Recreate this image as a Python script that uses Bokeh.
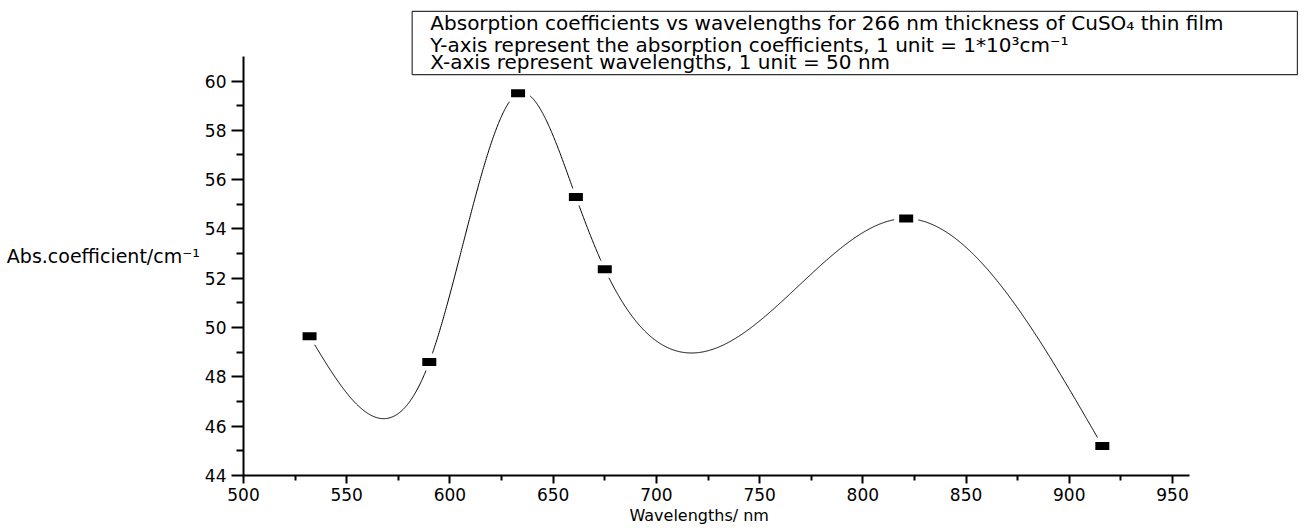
import numpy as np
from bokeh.plotting import figure
from bokeh.models import Range1d, FixedTicker, Title
from bokeh.core.properties import value
from bokeh.embed import file_html
from bokeh.resources import INLINE

# ---- data ----
wavelength = [532, 590, 633, 661, 675, 821, 916]
abs_coeff = [49.65, 48.6, 59.5, 55.3, 52.37, 54.42, 45.2]

x_ticks = [500, 550, 600, 650, 700, 750, 800, 850, 900, 950]
x_minor = [525, 575, 625, 675, 725, 775, 825, 875, 925]
y_ticks = [44, 46, 48, 50, 52, 54, 56, 58, 60]
y_minor = [45, 47, 49, 51, 53, 55, 57, 59]

note_lines = [
    "Absorption coefficients vs wavelengths for 266 nm thickness of CuSO\u2084 thin film",
    "Y-axis represent the absorption coefficients, 1 unit = 1*10\u00b3cm\u207b\u00b9",
    "X-axis represent wavelengths, 1 unit = 50 nm",
]
x_title = "Wavelengths/ nm"
y_title = "Abs.coefficient/cm\u207b\u00b9"

FONT = "DejaVu Sans"


def natural_spline(t, v, tt):
    """Cubic spline connection through the data points (as the original plot draws it)."""
    t = np.asarray(t, float); v = np.asarray(v, float)
    k = len(t); h = np.diff(t)
    A = np.zeros((k, k)); b = np.zeros(k)
    A[0, 0] = 1; A[-1, -1] = 1
    for i in range(1, k - 1):
        A[i, i - 1] = h[i - 1]; A[i, i] = 2 * (h[i - 1] + h[i]); A[i, i + 1] = h[i]
        b[i] = 6 * ((v[i + 1] - v[i]) / h[i] - (v[i] - v[i - 1]) / h[i - 1])
    M = np.linalg.solve(A, b)
    idx = np.clip(np.searchsorted(t, tt) - 1, 0, k - 2)
    t0, t1 = t[idx], t[idx + 1]; v0, v1 = v[idx], v[idx + 1]
    m0, m1 = M[idx], M[idx + 1]; hh = t1 - t0
    return (m0 * (t1 - tt) ** 3 / (6 * hh) + m1 * (tt - t0) ** 3 / (6 * hh)
            + (v0 / hh - m0 * hh / 6) * (t1 - tt) + (v1 / hh - m1 * hh / 6) * (tt - t0))


p = figure(width=1303, height=524, output_backend="svg", toolbar_location=None,
           x_range=Range1d(500, 1012), y_range=Range1d(44, 62.9),
           min_border_left=243, min_border_right=3, min_border_top=9, min_border_bottom=48)
p.outline_line_color = None
p.xgrid.visible = False
p.ygrid.visible = False

for ax in (p.xaxis[0], p.yaxis[0]):
    ax.axis_line_width = 2
    ax.axis_line_color = "black"
    ax.major_tick_line_width = 2
    ax.minor_tick_line_width = 2
    ax.major_tick_line_color = "black"
    ax.minor_tick_line_color = "black"
    ax.major_tick_in = 0
    ax.minor_tick_in = 0
    ax.major_label_text_font = FONT
    ax.major_label_text_font_size = "17px"
    ax.major_label_text_color = "black"

xa, ya = p.xaxis[0], p.yaxis[0]
xa.major_tick_out = 8; xa.minor_tick_out = 5; xa.major_label_standoff = 4
ya.major_tick_out = 12; ya.minor_tick_out = 7; ya.major_label_standoff = 5
xa.ticker = FixedTicker(ticks=x_ticks, minor_ticks=x_minor)
ya.ticker = FixedTicker(ticks=y_ticks, minor_ticks=y_minor)
xa.bounds = (500, 958)
ya.bounds = (44, 61)

ya.axis_label = "\u00a0\n" + y_title
ya.axis_label_orientation = "horizontal"
ya.axis_label_text_font = FONT
ya.axis_label_text_font_size = "19px"
ya.axis_label_text_font_style = "normal"
ya.axis_label_text_color = "black"
ya.axis_label_standoff = 2

p.add_layout(Title(text=x_title, align="left", offset=386, standoff=0, text_font=FONT,
                   text_font_size="16px", text_font_style="normal", text_color="black"), "below")

# spline-connected curve through the data
tt = np.linspace(wavelength[0], wavelength[-1], 1500)
p.line(tt, natural_spline(wavelength, abs_coeff, tt), line_color="black", line_width=1)

# rectangular markers with a white gap around them
p.rect(wavelength, abs_coeff, width=24, height=17, width_units="screen", height_units="screen",
       fill_color="white", line_color=None)
p.rect(wavelength, abs_coeff, width=14, height=8, width_units="screen", height_units="screen",
       fill_color="black", line_color=None)

# note box
p.quad(left=[581.7], right=[1010.5], bottom=[60.26], top=[62.82],
       fill_color="white", line_color="#333333", line_width=1.2)
note_y = [62.36, 61.47, 60.78]
p.text(x=[590.5] * 3, y=note_y, text=note_lines, text_font=value(FONT),
       text_font_size="20px", text_baseline="middle", text_align="left", text_color="black")

open("out.html", "w").write(file_html(p, INLINE))
